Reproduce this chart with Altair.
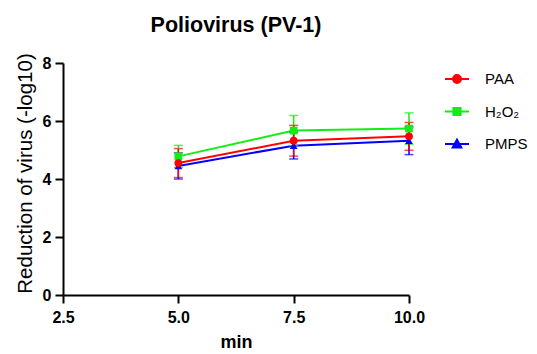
import altair as alt
import pandas as pd

minutes = [5.0, 7.5, 10.0]
series_names = ["PAA", "H₂O₂", "PMPS"]
paa_mean = [4.55, 5.32, 5.47]
paa_sd = [0.50, 0.53, 0.48]
h2o2_mean = [4.78, 5.67, 5.74]
h2o2_sd = [0.38, 0.52, 0.54]
pmps_mean = [4.45, 5.15, 5.32]
pmps_sd = [0.45, 0.46, 0.48]
colors = ["#FF0000", "#11EE11", "#0000FF"]

rows = []
draw_order = [("PMPS", pmps_mean, pmps_sd), ("H₂O₂", h2o2_mean, h2o2_sd), ("PAA", paa_mean, paa_sd)]
for name, means, sds in draw_order:
    for m, v, s in zip(minutes, means, sds):
        rows.append({"series": name, "min": m, "value": v, "lo": v - s, "hi": v + s})
df = pd.DataFrame(rows)

FONT = "Liberation Sans"
YTITLE = "Reduction of virus (-log10)"

x_enc = alt.X("min:Q", title="min",
              scale=alt.Scale(domain=[2.5, 10], nice=False, zero=False),
              axis=alt.Axis(values=[2.5, 5.0, 7.5, 10.0], format=".1f", titlePadding=8,
                            labelFlush=False, labelPadding=6))
y_enc = alt.Y("value:Q", title=YTITLE,
              scale=alt.Scale(domain=[0, 8], nice=False),
              axis=alt.Axis(values=[0, 2, 4, 6, 8], titleFontWeight="normal",
                            titleFontSize=20.5, titleY=110, labelFlush=False))

def cscale():
    return alt.Scale(domain=series_names, range=colors)

base = alt.Chart(df)

lines = base.mark_line(strokeWidth=2).encode(
    x=x_enc, y=y_enc,
    color=alt.Color("series:N", scale=cscale(), legend=None),
    detail="series:N",
)

errs = base.mark_errorbar(ticks=True, size=9, thickness=1.5).encode(
    x="min:Q",
    y=alt.Y("lo:Q", title=YTITLE),
    y2="hi:Q",
    color=alt.Color("series:N", scale=cscale(), legend=None),
)

points = base.mark_point(filled=True, opacity=1, size=60).encode(
    x="min:Q", y=alt.Y("value:Q", title=YTITLE),
    color=alt.Color("series:N", scale=cscale(), legend=None),
    shape=alt.Shape("series:N", scale=alt.Scale(domain=series_names,
                                                range=["circle", "square", "triangle-up"]),
                    legend=None),
)

legend_shapes = [
    "M-1,0H1M-0.33,0A0.33,0.33,0,1,1,0.33,0A0.33,0.33,0,1,1,-0.33,0Z",
    "M-1,0H1M-0.3,-0.3H0.3V0.3H-0.3Z",
    "M-1,0H1M0,-0.36L0.36,0.3H-0.36Z",
]

legend_layer = base.transform_filter("false").mark_point(filled=False, opacity=1, strokeWidth=2).encode(
    x="min:Q", y=alt.Y("value:Q", title=YTITLE),
    color=alt.Color("series:N", scale=cscale(), title=" ",
                    legend=alt.Legend(symbolSize=576, labelOffset=15, rowPadding=11.5,
                                      labelFontSize=15, labelFont=FONT, labelColor="black",
                                      titleFontSize=3, titlePadding=0,
                                      symbolStrokeWidth=2, offset=31, padding=0)),
    fill=alt.Fill("series:N", scale=cscale(), title=" "),
    shape=alt.Shape("series:N", scale=alt.Scale(domain=series_names, range=legend_shapes), title=" "),
)

chart = alt.layer(lines, errs, points, legend_layer).resolve_scale(
    color="independent", shape="independent", fill="independent"
).properties(
    width=346, height=232,
    title=alt.TitleParams("Poliovirus (PV-1)", font=FONT, fontSize=21.5, fontWeight="bold",
                          color="black", offset=16),
    padding={"left": 7, "top": 7, "right": 0, "bottom": 0},
).configure_view(stroke=None).configure_axis(
    grid=False, domainColor="black", domainWidth=2, tickColor="black", tickWidth=2,
    tickSize=8, labelFont=FONT, labelFontSize=16, labelFontWeight="bold", labelColor="black",
    labelPadding=4, titleFont=FONT, titleFontSize=18, titleFontWeight="bold", titleColor="black",
    titlePadding=7,
)

chart.save("out.html", embed_options={"renderer": "svg", "actions": False})
